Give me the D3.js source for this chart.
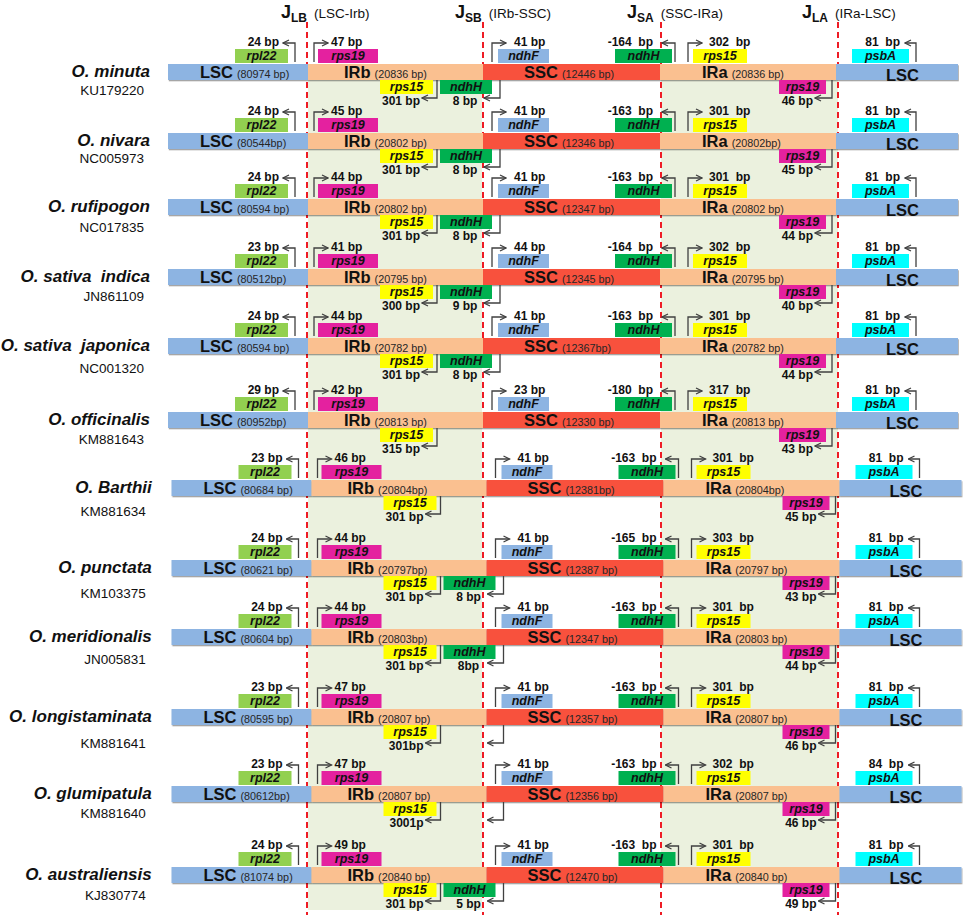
<!DOCTYPE html>
<html>
<head>
<meta charset="utf-8">
<script src="https://cdn.jsdelivr.net/npm/d3@7"></script>
<style>
body { margin: 0; background: #fff; }
text { font-family: "Liberation Sans", Arial, sans-serif; white-space: pre; fill: #111; }
</style>
</head>
<body>
<svg id="chart" width="964" height="920"></svg>
<script>
// ---- data ----
var species = ["O. minuta", "O. nivara", "O. rufipogon", "O. sativa  indica", "O. sativa  japonica",
  "O. officinalis", "O. Barthii", "O. punctata", "O. meridionalis", "O. longistaminata",
  "O. glumipatula", "O. australiensis"];
var accessions = ["KU179220", "NC005973", "NC017835", "JN861109", "NC001320", "KM881643",
  "KM881634", "KM103375", "JN005831", "KM881641", "KM881640", "KJ830774"];

var lscSize = ["80974 bp", "80544bp", "80594 bp", "80512bp", "80594 bp", "80952bp",
  "80684 bp", "80621 bp", "80604 bp", "80595 bp", "80612bp", "81074 bp"];
var irbSize = ["20836 bp", "20802 bp", "20802 bp", "20795 bp", "20782 bp", "20813 bp",
  "20804bp", "20797bp", "20803bp", "20807 bp", "20807 bp", "20840 bp"];
var sscSize = ["12446 bp", "12346 bp", "12347 bp", "12345 bp", "12367bp", "12330 bp",
  "12381bp", "12387 bp", "12347 bp", "12357 bp", "12356 bp", "12470 bp"];
var iraSize = ["20836 bp", "20802bp", "20802 bp", "20795 bp", "20782 bp", "20813 bp",
  "20804bp", "20797 bp", "20803 bp", "20807 bp", "20807 bp", "20840 bp"];

var rpl22Bp = ["24 bp", "24 bp", "24 bp", "23 bp", "24 bp", "29 bp", "23 bp", "24 bp", "24 bp", "23 bp", "23 bp", "24 bp"];
var rps19bBp = ["47 bp", "45 bp", "44 bp", "41 bp", "44 bp", "42 bp", "46 bp", "44 bp", "44 bp", "47 bp", "47 bp", "49 bp"];
var rps15bBp = ["301 bp", "301 bp", "301 bp", "300 bp", "301 bp", "315 bp", "301 bp", "301 bp", "301 bp", "301bp", "3001p", "301 bp"];
var ndhHbBp = ["8 bp", "8 bp", "8 bp", "9 bp", "8 bp", null, null, "8 bp", "8bp", null, null, "5 bp"];
var ndhHbArrow = [true, true, true, true, true, false, false, true, true, true, true, true];
var ndhFBp = ["41 bp", "41 bp", "41 bp", "44 bp", "41 bp", "23 bp", "41 bp", "41 bp", "41 bp", "41 bp", "41 bp", "41 bp"];
var ndhHaBp = ["-164  bp", "-163  bp", "-163  bp", "-164  bp", "-163  bp", "-180  bp", "-163  bp", "-165  bp", "-163  bp", "-163  bp", "-163  bp", "-163  bp"];
var rps15aBp = ["302  bp", "301  bp", "301  bp", "302  bp", "301  bp", "317  bp", "301  bp", "303  bp", "301  bp", "301  bp", "302  bp", "301  bp"];
var rps19aBp = ["46 bp", "45 bp", "44 bp", "40 bp", "44 bp", "43 bp", "45 bp", "43 bp", "44 bp", "46 bp", "46 bp", "49 bp"];
var psbABp = ["81  bp", "81  bp", "81  bp", "81  bp", "81  bp", "81  bp", "81  bp", "81  bp", "81  bp", "81  bp", "84  bp", "81  bp"];

var junctionNames = ["LB", "SB", "SA", "LA"];
var junctionPairs = ["(LSC-Irb)", "(IRb-SSC)", "(SSC-IRa)", "(IRa-LSC)"];

// ---- layout ----
var svg = d3.select("#chart");
var barH = 16, geneH = 14;
var rowGap = [69, 66, 70, 69, 74, 68, 80, 69, 80, 77, 81];
var accDy = [30, 29, 32, 31, 34, 31, 35, 37, 34, 38, 31, 32];
var rowTop = d3.scaleOrdinal().domain(species).range(d3.cumsum([64].concat(rowGap)));
var rowShift = function(i) { return i < 6 ? 0 : 3.5; };

// schematic (not to scale) positions of the four junctions
var jx = d3.scaleOrdinal().domain(junctionNames).range([308, 483, 660, 836]);
var dashX = d3.scaleOrdinal().domain(junctionNames).range([307, 483, 661, 838]);
var headX = d3.scaleOrdinal().domain(junctionNames).range([281, 455, 627, 802]);

var regions = [
  {key: "LSC", from: 168, to: jx("LB"), fill: "#8db4e2", dx: 32, dy: 14, sizes: lscSize},
  {key: "IRb", from: jx("LB"), to: jx("SB"), fill: "#fac090", dx: 36, dy: 14, sizes: irbSize},
  {key: "SSC", from: jx("SB"), to: jx("SA"), fill: "#f8513e", dx: 41, dy: 14, sizes: sscSize},
  {key: "IRa", from: jx("SA"), to: jx("LA"), fill: "#fac090", dx: 42, dy: 14, sizes: iraSize},
  {key: "LSC", from: jx("LA"), to: 958, fill: "#8db4e2", dx: 50, dy: 17, sizes: null}
];

var genes = [
  {name: "rpl22", fill: "#92d050", j: "LB", x0: -73, x1: -20, side: "top", ax: -13, dir: -1, len: 12, lx: -29, anchor: "end", labels: rpl22Bp},
  {name: "rps19", fill: "#e4219f", j: "LB", x0: 10, x1: 70, side: "top", ax: 6, dir: 1, len: 14, lx: 23, anchor: "start", labels: rps19bBp},
  {name: "rps15", fill: "#ffff00", j: "SB", x0: -103, x1: -50, side: "bottom", ax: -46, dir: -1, len: 15, lx: -63, anchor: "end", labels: rps15bBp},
  {name: "ndhH", fill: "#00b050", j: "SB", x0: -43, x1: 9, side: "bottom", ax: 17, dir: -1, len: 16, lx: -18, anchor: "middle", labels: ndhHbBp, arrows: ndhHbArrow},
  {name: "ndhF", fill: "#8db4e2", j: "SB", x0: 15, x1: 66, side: "top", ax: 9, dir: 1, len: 14, lx: 31, anchor: "start", labels: ndhFBp},
  {name: "ndhH", fill: "#00b050", j: "SA", x0: -45, x1: 12, side: "top", ax: 15, dir: -1, len: 13, lx: -7, anchor: "end", labels: ndhHaBp},
  {name: "rps15", fill: "#ffff00", j: "SA", x0: 33, x1: 87, side: "top", ax: 28, dir: 1, len: 14, lx: 49, anchor: "start", labels: rps15aBp},
  {name: "rps19", fill: "#e4219f", j: "LA", x0: -57, x1: -10, side: "bottom", ax: -4, dir: -1, len: 17, lx: -23, anchor: "end", labels: rps19aBp},
  {name: "psbA", fill: "#00ffff", j: "LA", x0: 16, x1: 73, side: "top", ax: 80, dir: -1, len: 11, lx: 64, anchor: "end", labels: psbABp}
];

var defs = svg.append("defs");
defs.append("marker").attr("id", "head").attr("viewBox", "0 0 8 8")
  .attr("refX", 7).attr("refY", 4).attr("markerWidth", 8).attr("markerHeight", 8)
  .attr("markerUnits", "userSpaceOnUse").attr("orient", "auto")
  .append("path").attr("d", "M1,1 L7,4 L1,7").attr("fill", "none")
  .attr("stroke", "#404040").attr("stroke-width", 1.3);
defs.append("filter").attr("id", "shadow").attr("x", "-2%").attr("y", "-20%").attr("width", "104%").attr("height", "160%")
  .append("feDropShadow").attr("dx", 0.8).attr("dy", 1.3).attr("stdDeviation", 0.7)
  .attr("flood-color", "#000").attr("flood-opacity", 0.35);

// shaded inverted-repeat columns
var firstTop = rowTop(species[0]), lastTop = rowTop(species[species.length - 1]);
svg.append("rect").attr("x", jx("LB")).attr("y", firstTop)
  .attr("width", jx("SB") - jx("LB") - 1).attr("height", 910 - firstTop).attr("fill", "#ebf1de");
svg.append("rect").attr("x", dashX("SA")).attr("y", firstTop)
  .attr("width", dashX("LA") - dashX("SA")).attr("height", lastTop - firstTop).attr("fill", "#ebf1de");

// junction dashed lines (behind the bars)
svg.append("g").selectAll("line").data(junctionNames).enter().append("line")
  .attr("x1", function(d) { return dashX(d); }).attr("x2", function(d) { return dashX(d); })
  .attr("y1", 22).attr("y2", 915)
  .attr("stroke", "#ee1c25").attr("stroke-width", 2).attr("stroke-dasharray", "6,4");

// junction headers
var head = svg.append("g").selectAll("text").data(junctionNames).enter().append("text")
  .attr("x", function(d) { return headX(d); })
  .attr("y", 18);
head.append("tspan").text("J").attr("font-size", 18).attr("font-weight", "bold");
head.append("tspan").text(function(d) { return d; }).attr("font-size", 12).attr("font-weight", "bold").attr("dy", 4);
head.append("tspan").text(function(d, i) { return junctionPairs[i]; }).attr("font-size", 13.5).attr("dy", -4).attr("dx", 7);

// rows
species.forEach(function(sp, i) {
  var T = rowTop(sp), s = rowShift(i);
  var g = svg.append("g").attr("class", "row").attr("transform", "translate(" + s + ",0)");

  svg.append("text").attr("x", 150 + s / 2).attr("y", T + 13).attr("text-anchor", "end")
    .attr("font-size", 17).attr("font-weight", "bold").attr("font-style", "italic").text(sp);
  svg.append("text").attr("x", 144 + s / 2).attr("y", T + accDy[i] + 0.5).attr("text-anchor", "end")
    .attr("font-size", 13.5).attr("fill", "#1a1a1a").text(accessions[i]);

  g.selectAll("rect.region").data(regions).enter().append("rect").attr("class", "region")
    .attr("x", function(d) { return d.from; }).attr("y", T)
    .attr("width", function(d) { return d.to - d.from; }).attr("height", barH)
    .attr("fill", function(d) { return d.fill; }).attr("filter", "url(#shadow)");

  var rl = g.selectAll("text.region").data(regions).enter().append("text").attr("class", "region")
    .attr("x", function(d) { return d.from + d.dx; }).attr("y", function(d) { return T + d.dy; });
  rl.append("tspan").text(function(d) { return d.key; }).attr("font-size", 16.5).attr("font-weight", "bold");
  rl.filter(function(d) { return d.sizes; }).append("tspan").attr("dx", 4).attr("font-size", 10.8)
    .attr("fill", "#262626").text(function(d) { return "(" + d.sizes[i] + ")"; });

  genes.forEach(function(gn) {
    var J = jx(gn.j), lab = gn.labels[i];
    var top = gn.side === "top";
    var hasArrow = gn.arrows ? gn.arrows[i] : lab != null;
    if (lab != null) {
      var by = top ? T - 15 : T + barH;
      g.append("rect").attr("x", J + gn.x0).attr("y", by).attr("width", gn.x1 - gn.x0).attr("height", geneH)
        .attr("fill", gn.fill);
      g.append("text").attr("x", J + (gn.x0 + gn.x1) / 2).attr("y", by + (top ? 11.2 : 10.5)).attr("text-anchor", "middle")
        .attr("font-size", 12.5).attr("font-weight", "bold").attr("font-style", "italic").text(gn.name);
      g.append("text").attr("x", J + gn.lx).attr("y", top ? T - 18 : T + 40.5).attr("text-anchor", gn.anchor)
        .attr("font-size", 12).attr("font-weight", "bold").text(lab);
    }
    if (hasArrow) {
      var ax = J + gn.ax;
      var y0 = top ? T - 2 : T + barH, y1 = top ? T - 21 : T + 34;
      g.append("path").attr("d", d3.line()([[ax, y0], [ax, y1], [ax + gn.dir * gn.len, y1]]))
        .attr("fill", "none").attr("stroke", "#404040").attr("stroke-width", 1.3)
        .attr("marker-end", "url(#head)");
    }
  });
});
</script>
</body>
</html>
